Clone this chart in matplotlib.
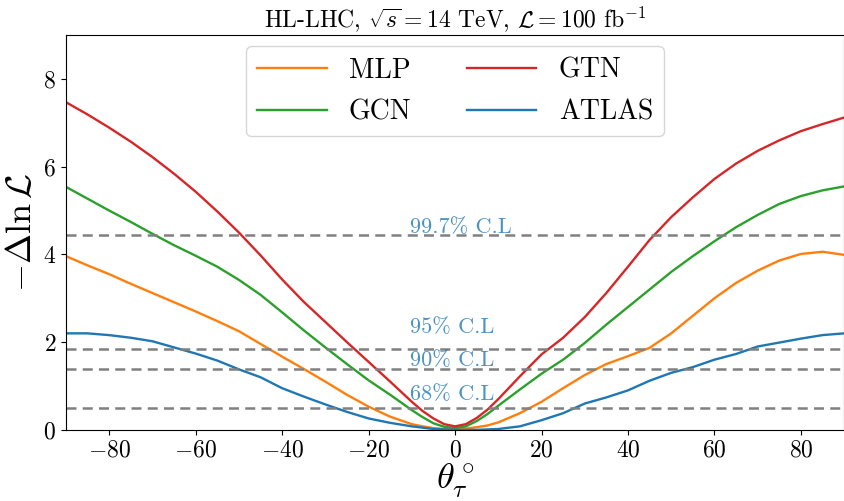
import numpy as np
import matplotlib
matplotlib.use('Agg')
import matplotlib.pyplot as plt

plt.rcParams['font.family'] = 'serif'
plt.rcParams['font.serif'] = ['cmr10']
plt.rcParams['mathtext.fontset'] = 'cm'
plt.rcParams['axes.formatter.use_mathtext'] = True

# angle grid (degrees)
theta = [-90, -85, -80, -75, -70, -65, -60, -55, -50, -45, -40, -35, -30, -25, -20, -15,
         -10, -7.5, -5, -2.5, 0, 2.5, 5, 7.5, 10,
         15, 20, 25, 30, 35, 40, 45, 50, 55, 60, 65, 70, 75, 80, 85, 90]

mlp = [3.96, 3.75, 3.55, 3.33, 3.12, 2.91, 2.70, 2.48, 2.25, 1.96, 1.67, 1.39, 1.10, 0.80, 0.53, 0.30,
       0.13, 0.08, 0.04, 0.02, 0.02, 0.03, 0.06, 0.10, 0.17,
       0.38, 0.64, 0.95, 1.25, 1.50, 1.68, 1.87, 2.20, 2.60, 3.00, 3.35, 3.63, 3.86, 4.01, 4.06, 3.99]

gcn = [5.54, 5.27, 5.00, 4.74, 4.47, 4.21, 3.97, 3.72, 3.42, 3.08, 2.68, 2.27, 1.88, 1.50, 1.13, 0.80,
       0.45, 0.29, 0.15, 0.07, 0.04, 0.08, 0.20, 0.36, 0.55,
       0.92, 1.28, 1.60, 1.98, 2.40, 2.80, 3.20, 3.60, 3.96, 4.30, 4.62, 4.90, 5.15, 5.33, 5.46, 5.55]

gtn = [7.47, 7.19, 6.89, 6.57, 6.22, 5.84, 5.43, 4.98, 4.50, 3.98, 3.43, 2.92, 2.46, 2.00, 1.55, 1.10,
       0.64, 0.43, 0.26, 0.13, 0.08, 0.13, 0.27, 0.46, 0.70,
       1.22, 1.72, 2.10, 2.57, 3.12, 3.72, 4.33, 4.85, 5.30, 5.72, 6.07, 6.36, 6.60, 6.81, 6.97, 7.12]

atlas = [2.20, 2.20, 2.16, 2.10, 2.02, 1.88, 1.74, 1.58, 1.38, 1.20, 0.95, 0.76, 0.58, 0.41, 0.26, 0.16,
         0.08, 0.05, 0.02, 0.01, 0.00, 0.00, 0.00, 0.01, 0.02,
         0.08, 0.22, 0.38, 0.60, 0.74, 0.90, 1.12, 1.30, 1.43, 1.60, 1.73, 1.90, 1.99, 2.08, 2.16, 2.20]

cl_values = [0.5, 1.38, 1.85, 4.45]
cl_labels = ['68% C.L', '90% C.L', '95% C.L', '99.7% C.L']
cl_text_y = [0.82, 1.58, 2.33, 4.62]

fig, ax = plt.subplots(figsize=(8.45, 5.01), dpi=100)
fig.subplots_adjust(left=0.078, right=0.999, bottom=0.142, top=0.930)

lw = 1.7
ax.plot(theta, mlp, color='C1', lw=lw, label='MLP')
ax.plot(theta, gcn, color='C2', lw=lw, label='GCN')
ax.plot(theta, gtn, color='C3', lw=lw, label='GTN')
ax.plot(theta, atlas, color='C0', lw=lw, label='ATLAS')

for val, lab, ty in zip(cl_values, cl_labels, cl_text_y):
    ax.axhline(val, color='gray', ls='--', lw=1.8, dashes=(4, 2.5))
    ax.text(-10.5, ty, lab, color='C0', alpha=0.8, fontsize=16, va='center', ha='left')

ax.set_xlim(-90, 90)
ax.set_ylim(0, 9)
ax.set_xticks([-80, -60, -40, -20, 0, 20, 40, 60, 80])
ax.set_yticks([0, 2, 4, 6, 8])
ax.tick_params(labelsize=17)
ax.set_xlabel(r'$\theta_\tau^\circ$', fontsize=26, labelpad=0)
ax.set_ylabel(r'$-\Delta\ln\mathcal{L}$', fontsize=26)
ax.set_title(r'HL-LHC, $\sqrt{s}=14$ TeV, $\mathcal{L}=100$ fb$^{-1}$', fontsize=17)
ax.legend(ncol=2, loc='upper center', fontsize=20, columnspacing=2.0, handlelength=2.5,
          labelspacing=0.55, borderaxespad=0.4)

plt.savefig('out.png')
